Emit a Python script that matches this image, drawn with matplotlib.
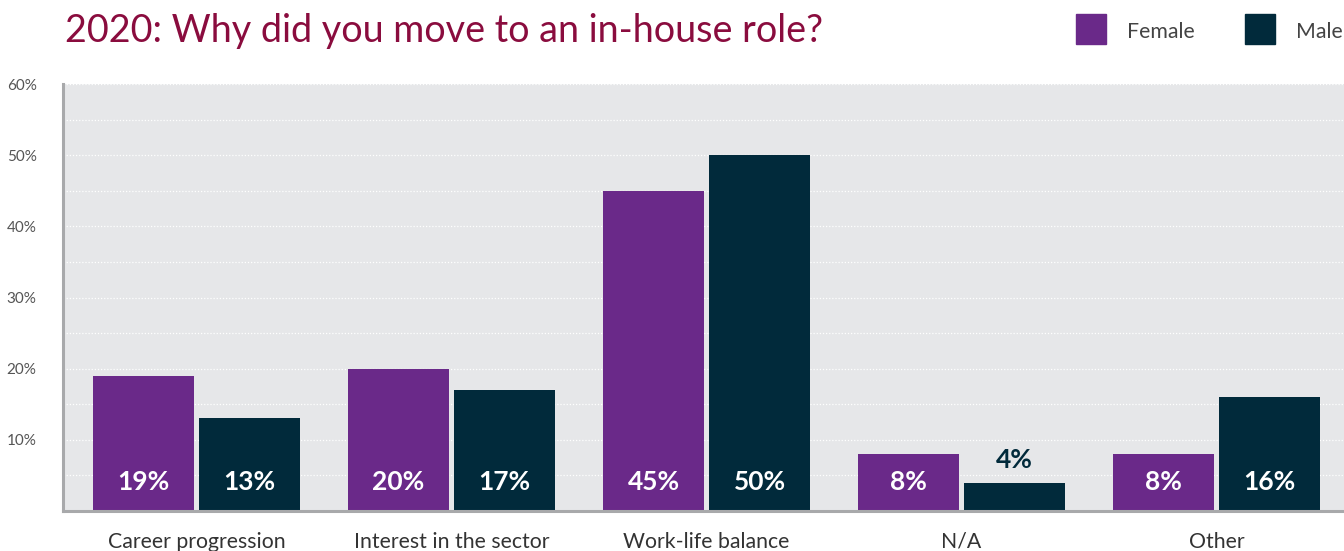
import numpy as np
import matplotlib
matplotlib.use("Agg")
from matplotlib import pyplot as plt
from matplotlib.patches import Rectangle

plt.rcParams['font.family'] = ['Lato', 'DejaVu Sans']

categories = ["Career progression", "Interest in the sector", "Work-life balance", "N/A", "Other"]
female = [19, 20, 45, 8, 8]
male = [13, 17, 50, 4, 16]
yticks = [10, 20, 30, 40, 50, 60]

purple = "#6a2989"
navy = "#012a3b"
title_col = "#8a0c3e"

fig = plt.figure(figsize=(13.44, 5.51), dpi=100)
ax = fig.add_axes([0.0469, 0.0726, 0.9531, 0.7749])
ax.set_facecolor("#e6e7e9")

x = np.arange(len(categories))
w = 0.396
off = 0.208
ax.bar(x - off, female, w, color=purple, zorder=3)
ax.bar(x + off, male, w, color=navy, zorder=3)

# value labels sit near the bar base, or above the bar when it is too short
for xs, vals in ((x - off, female), (x + off, male)):
    for xi, v in zip(xs, vals):
        if v >= 7:
            ax.text(xi, 4.1, f"{v}%", ha="center", va="center", color="white",
                    fontsize=19, fontweight="bold", zorder=4)
        else:
            ax.text(xi, v + 3.1, f"{v}%", ha="center", va="center", color=navy,
                    fontsize=19, fontweight="bold", zorder=4)

ax.set_xlim(-0.524, 4.5)
ax.set_ylim(0, 60)
ax.set_yticks(yticks)
ax.set_yticklabels([f"{t}%" for t in yticks])
ax.set_yticks(np.arange(5, 60, 5), minor=True)
ax.grid(axis="y", which="both", color="white", linestyle=(0, (1, 1.5)), linewidth=0.9, zorder=1)
ax.tick_params(axis="y", which="both", length=0, labelsize=11, labelcolor="#555555", pad=19)
ax.set_xticks(x)
ax.set_xticklabels(categories)
ax.tick_params(axis="x", length=0, labelsize=15.3, labelcolor="#333333", pad=15)

for s in ("top", "right"):
    ax.spines[s].set_visible(False)
for s in ("left", "bottom"):
    ax.spines[s].set_color("#a8a9ab")
    ax.spines[s].set_linewidth(2.2)
    ax.spines[s].set_zorder(5)

fig.text(0.048, 0.943, "2020: Why did you move to an in-house role?", color=title_col,
         fontsize=27.2, ha="left", va="center")

# legend squares
for px, label, col in ((1076, "Female", purple), (1245, "Male", navy)):
    fig.patches.append(Rectangle((px / 1344, 1 - 44 / 551), 30 / 1344, 30 / 551,
                                 transform=fig.transFigure, color=col))
    fig.text((px + 51) / 1344, 1 - 32 / 551, label, fontsize=15.3, color="#444444",
             ha="left", va="center")

fig.savefig("out.png", dpi=100)
